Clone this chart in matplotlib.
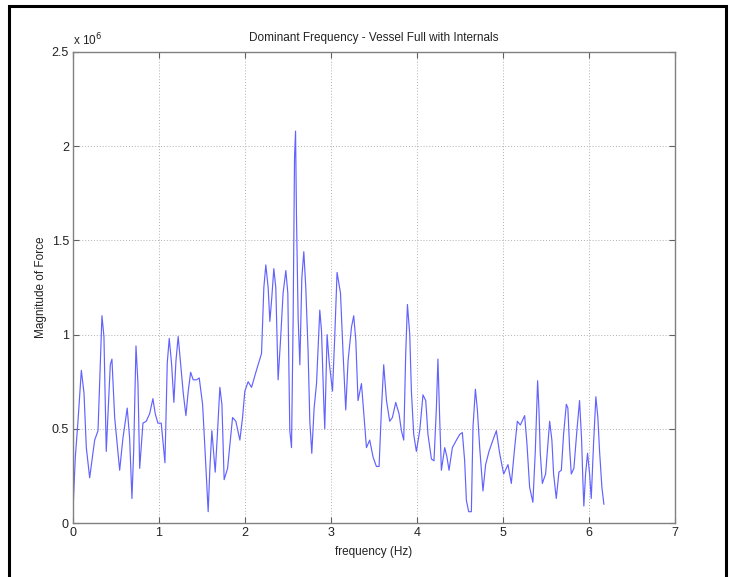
import matplotlib
matplotlib.use("Agg")
import matplotlib.pyplot as plt
from matplotlib.patches import Rectangle

freq_hz = [0.000, 0.027, 0.058, 0.097, 0.128, 0.155, 0.194, 0.252, 0.291, 0.337,
           0.360, 0.387, 0.434, 0.453, 0.485, 0.543, 0.581, 0.631, 0.659, 0.686,
           0.706, 0.733, 0.756, 0.776, 0.814, 0.852, 0.892, 0.930, 0.957, 0.988,
           1.027, 1.070, 1.097, 1.120, 1.148, 1.174, 1.198, 1.224, 1.252, 1.283,
           1.314, 1.341, 1.369, 1.399, 1.438, 1.469, 1.508, 1.535, 1.573, 1.593,
           1.616, 1.655, 1.678, 1.709, 1.733, 1.759, 1.799, 1.834, 1.857, 1.895,
           1.942, 1.973, 2.000, 2.038, 2.078, 2.128, 2.194, 2.221, 2.244, 2.271,
           2.291, 2.314, 2.337, 2.360, 2.387, 2.415, 2.445, 2.477, 2.500, 2.523,
           2.543, 2.562, 2.578, 2.590, 2.601, 2.620, 2.640, 2.663, 2.686, 2.709,
           2.736, 2.756, 2.779, 2.806, 2.834, 2.872, 2.892, 2.919, 2.930, 2.957,
           2.980, 3.020, 3.047, 3.073, 3.113, 3.143, 3.174, 3.201, 3.241, 3.267,
           3.291, 3.317, 3.357, 3.384, 3.415, 3.453, 3.492, 3.531, 3.562, 3.590,
           3.616, 3.648, 3.686, 3.717, 3.756, 3.794, 3.822, 3.849, 3.872, 3.892,
           3.919, 3.938, 3.965, 3.996, 4.035, 4.073, 4.105, 4.131, 4.171, 4.201,
           4.229, 4.247, 4.267, 4.287, 4.326, 4.352, 4.376, 4.415, 4.462, 4.500,
           4.531, 4.558, 4.578, 4.605, 4.636, 4.655, 4.683, 4.706, 4.733, 4.771,
           4.802, 4.841, 4.887, 4.927, 4.965, 5.012, 5.062, 5.101, 5.140, 5.171,
           5.206, 5.256, 5.283, 5.314, 5.352, 5.380, 5.407, 5.422, 5.438, 5.462,
           5.500, 5.547, 5.573, 5.593, 5.624, 5.655, 5.683, 5.709, 5.741, 5.759,
           5.779, 5.799, 5.829, 5.864, 5.895, 5.919, 5.934, 5.945, 5.965, 5.988,
           6.012, 6.031, 6.058, 6.085, 6.108, 6.128, 6.155, 6.178]

magnitude_e6 = [0.07, 0.35, 0.54, 0.81, 0.69, 0.40, 0.24, 0.44, 0.49, 1.10,
                0.99, 0.38, 0.84, 0.87, 0.56, 0.28, 0.45, 0.61, 0.45, 0.13,
                0.38, 0.94, 0.74, 0.29, 0.53, 0.54, 0.58, 0.66, 0.58, 0.53,
                0.53, 0.32, 0.85, 0.98, 0.84, 0.64, 0.86, 0.99, 0.85, 0.69,
                0.57, 0.70, 0.80, 0.76, 0.76, 0.77, 0.63, 0.40, 0.06, 0.29,
                0.49, 0.27, 0.45, 0.72, 0.63, 0.23, 0.29, 0.45, 0.56, 0.54,
                0.44, 0.56, 0.70, 0.75, 0.72, 0.80, 0.90, 1.25, 1.37, 1.25,
                1.07, 1.20, 1.35, 1.25, 0.76, 0.97, 1.22, 1.34, 1.22, 0.49,
                0.40, 1.09, 1.94, 2.08, 1.62, 1.09, 0.84, 1.30, 1.44, 1.25,
                0.91, 0.54, 0.37, 0.61, 0.74, 1.13, 1.02, 0.63, 0.50, 1.00,
                0.86, 0.70, 1.00, 1.33, 1.22, 0.90, 0.60, 0.86, 1.04, 1.10,
                0.97, 0.65, 0.74, 0.58, 0.40, 0.44, 0.35, 0.30, 0.30, 0.61,
                0.84, 0.65, 0.54, 0.56, 0.64, 0.58, 0.49, 0.44, 0.90, 1.16,
                1.00, 0.70, 0.47, 0.38, 0.49, 0.68, 0.65, 0.47, 0.34, 0.33,
                0.61, 0.87, 0.56, 0.28, 0.40, 0.35, 0.28, 0.40, 0.44, 0.47,
                0.48, 0.33, 0.12, 0.06, 0.06, 0.51, 0.71, 0.60, 0.40, 0.17,
                0.31, 0.38, 0.44, 0.49, 0.37, 0.26, 0.31, 0.21, 0.40, 0.54,
                0.52, 0.57, 0.42, 0.19, 0.11, 0.38, 0.755, 0.61, 0.37, 0.21,
                0.26, 0.54, 0.44, 0.26, 0.13, 0.27, 0.28, 0.47, 0.63, 0.61,
                0.40, 0.26, 0.29, 0.49, 0.65, 0.44, 0.22, 0.09, 0.26, 0.37,
                0.26, 0.13, 0.42, 0.67, 0.56, 0.38, 0.19, 0.10]

x_ticks = [0, 1, 2, 3, 4, 5, 6, 7]
y_ticks = [0, 0.5, 1, 1.5, 2, 2.5]
y_tick_labels = ["0", "0.5", "1", "1.5", "2", "2.5"]

plt.rcParams['font.family'] = ['Liberation Sans', 'DejaVu Sans']

fig = plt.figure(figsize=(7.30, 5.77), dpi=100)
ax = fig.add_axes([73/730, 54/577, (674.5-73)/730, (525-54)/577])

ax.plot(freq_hz, magnitude_e6, color='#6262ff', linewidth=0.85,
        solid_joinstyle='round')

ax.set_xlim(0, 7)
ax.set_ylim(0, 2.5)
ax.set_xticks(x_ticks)
ax.set_xticklabels([str(t) for t in x_ticks])
ax.set_yticks(y_ticks)
ax.set_yticklabels(y_tick_labels)
ax.grid(True, linestyle=(0, (1, 2)), color='#b0b0b0', linewidth=0.7)
ax.tick_params(direction='in', length=4, width=0.8, color='#606060',
               top=True, right=True, labelsize=9, pad=3, labelcolor='#222222')
for s in ax.spines.values():
    s.set_color('#808080')
    s.set_linewidth(1.0)

ax.set_title("Dominant Frequency - Vessel Full with Internals", fontsize=8.5,
             color='#222222', pad=8)
ax.set_xlabel("frequency (Hz)", fontsize=8.5, color='#222222', labelpad=5)
ax.set_ylabel("Magnitude of Force", fontsize=8.5, color='#222222', labelpad=3)
ax.text(0.0, 1.008, r"x 10$^{6}$", transform=ax.transAxes, fontsize=8.5,
        color='#222222', ha='left', va='bottom')

# outer black frame (left, top, right)
frame = Rectangle((9/730, -0.05), (726-9)/730, 1.05 - 6/577, transform=fig.transFigure,
                  fill=False, edgecolor='black', linewidth=2.2)
fig.patches.append(frame)

fig.savefig("out.png", dpi=100)
